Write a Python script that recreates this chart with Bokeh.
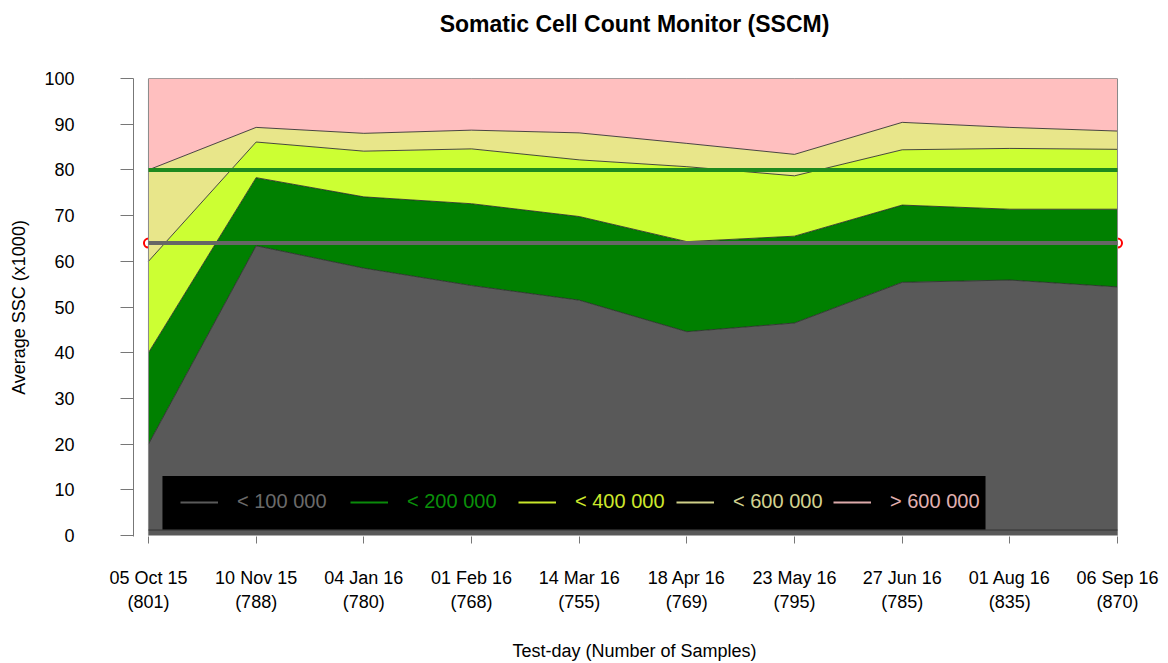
from bokeh.plotting import figure
from bokeh.models import FixedTicker, Legend, LegendItem, BoxAnnotation, Title
from bokeh.embed import file_html
from bokeh.resources import INLINE

# ---------------- data ----------------
test_days = ["05 Oct 15", "10 Nov 15", "04 Jan 16", "01 Feb 16", "14 Mar 16",
             "18 Apr 16", "23 May 16", "27 Jun 16", "01 Aug 16", "06 Sep 16"]
n_samples = [801, 788, 780, 768, 755, 769, 795, 785, 835, 870]

# cumulative share of cows (%) below each SCC class limit
cum_lt100 = [20.0, 63.4, 58.5, 54.7, 51.5, 44.6, 46.5, 55.4, 55.9, 54.4]
cum_lt200 = [40.0, 78.3, 74.1, 72.6, 69.8, 64.3, 65.5, 72.3, 71.4, 71.4]
cum_lt400 = [60.0, 86.1, 84.1, 84.6, 82.2, 80.7, 78.7, 84.4, 84.7, 84.5]
cum_lt600 = [80.0, 89.3, 88.0, 88.7, 88.1, 85.8, 83.4, 90.4, 89.3, 88.5]
cum_all = [100.0] * 10

target_level = 80.0
average_level = 64.0

class_labels = ["< 100 000", "< 200 000", "< 400 000", "< 600 000", "> 600 000"]
y_ticks = [0, 10, 20, 30, 40, 50, 60, 70, 80, 90, 100]
title_text = "Somatic Cell Count Monitor (SSCM)"

# ---------------- styles ----------------
fill_colors = ["#595959", "#008000", "#CCFF33", "#E8E68A", "#FFBFBF"]
legend_line_colors = ["#5a5a5a", "#0a8a0a", "#c8e62a", "#cfcf88", "#dcaaaa"]
legend_text_colors = ["#6a6a6a", "#0a8f0a", "#cde82c", "#d2d290", "#e0b0b0"]
FONT = "Liberation Sans"

x = list(range(len(test_days)))

p = figure(width=1160, height=663,
           x_range=(-0.139, 9.167), y_range=(-0.217, 100),
           output_backend="svg", toolbar_location=None,
           min_border_left=133, min_border_right=25,
           min_border_top=78, min_border_bottom=124)
p.outline_line_color = None
p.xgrid.grid_line_color = None
p.ygrid.grid_line_color = None
p.background_fill_color = "white"

# title: an empty spacer panel next to the frame, then the real title above it
p.add_layout(Title(text=" ", text_font_size="10px", standoff=29), "above")
p.add_layout(Title(text=title_text, text_font=FONT, text_font_size="23px",
                   text_font_style="bold", align="center", standoff=0,
                   text_color="black"), "above")

# red end markers of the average line (drawn first: half hidden by the areas)
p.scatter(x=[x[0], x[-1]], y=[average_level, average_level], size=9,
          fill_color=None, line_color="red", line_width=2)

# stacked areas
bounds = [[0.0] * 10, cum_lt100, cum_lt200, cum_lt400, cum_lt600, cum_all]
for i in range(5):
    p.varea(x=x, y1=bounds[i], y2=bounds[i + 1], fill_color=fill_colors[i])
for i in range(1, 6):
    p.line(x=x, y=bounds[i], line_color="#2a2a2a", line_width=1, line_alpha=0.85)
# polygon outlines at the side edges / bottom
p.line(x=[x[0], x[0]], y=[0, 100], line_color="#888888", line_width=1)
p.line(x=[x[-1], x[-1]], y=[0, 100], line_color="#888888", line_width=1)
p.line(x=[x[0], x[-1]], y=[1.2, 1.2], line_color="#333333", line_width=1)

# reference lines
p.line(x=[x[0], x[-1]], y=[target_level, target_level], line_color="#1E8A1E", line_width=4)
p.line(x=[x[0], x[-1]], y=[average_level, average_level], line_color="#666666", line_width=4)

# axes
xa = p.xaxis[0]
xa.ticker = FixedTicker(ticks=x)
xa.major_label_overrides = {i: f"{d}\n({n})" for i, (d, n) in enumerate(zip(test_days, n_samples))}
xa.axis_line_color = None
xa.major_tick_line_color = "#777777"
xa.major_tick_out = 7
xa.major_tick_in = 0
xa.minor_tick_line_color = None
xa.major_label_text_font = FONT
xa.major_label_text_font_size = "18px"
xa.major_label_text_color = "black"
xa.major_label_standoff = 24
xa.axis_label = "Test-day (Number of Samples)"
xa.axis_label_text_font = FONT
xa.axis_label_text_font_size = "18px"
xa.axis_label_text_font_style = "normal"
xa.axis_label_text_color = "black"
xa.axis_label_standoff = 26

ya = p.yaxis[0]
ya.ticker = FixedTicker(ticks=y_ticks)
ya.axis_line_color = "#777777"
ya.major_tick_line_color = "#777777"
ya.major_tick_out = 13
ya.major_tick_in = 0
ya.minor_tick_line_color = None
ya.major_label_text_font = FONT
ya.major_label_text_font_size = "18px"
ya.major_label_text_color = "black"
ya.major_label_standoff = 46
ya.axis_label = "Average SSC (x1000)"
ya.axis_label_text_font = FONT
ya.axis_label_text_font_size = "18px"
ya.axis_label_text_font_style = "normal"
ya.axis_label_text_color = "black"
ya.axis_label_standoff = 12

# legend: black box + one legend per class (own text colour)
p.add_layout(BoxAnnotation(left=0.13, right=7.774, bottom=1.3, top=13.04,
                           fill_color="black", fill_alpha=1.0, line_color=None))
legend_x = [47, 217, 385, 543, 700]
nan = float("nan")
for i in range(5):
    r = p.line(x=[nan], y=[nan], line_color=legend_line_colors[i], line_width=2)
    leg = Legend(items=[LegendItem(label=class_labels[i], renderers=[r])],
                 location=(legend_x[i], 23), orientation="horizontal",
                 background_fill_alpha=0, border_line_color=None,
                 padding=0, margin=0, glyph_width=38, glyph_height=20,
                 label_height=20, label_standoff=19,
                 label_text_font=FONT, label_text_font_size="20px",
                 label_text_color=legend_text_colors[i])
    p.add_layout(leg)

open("out.html", "w").write(file_html(p, INLINE))
